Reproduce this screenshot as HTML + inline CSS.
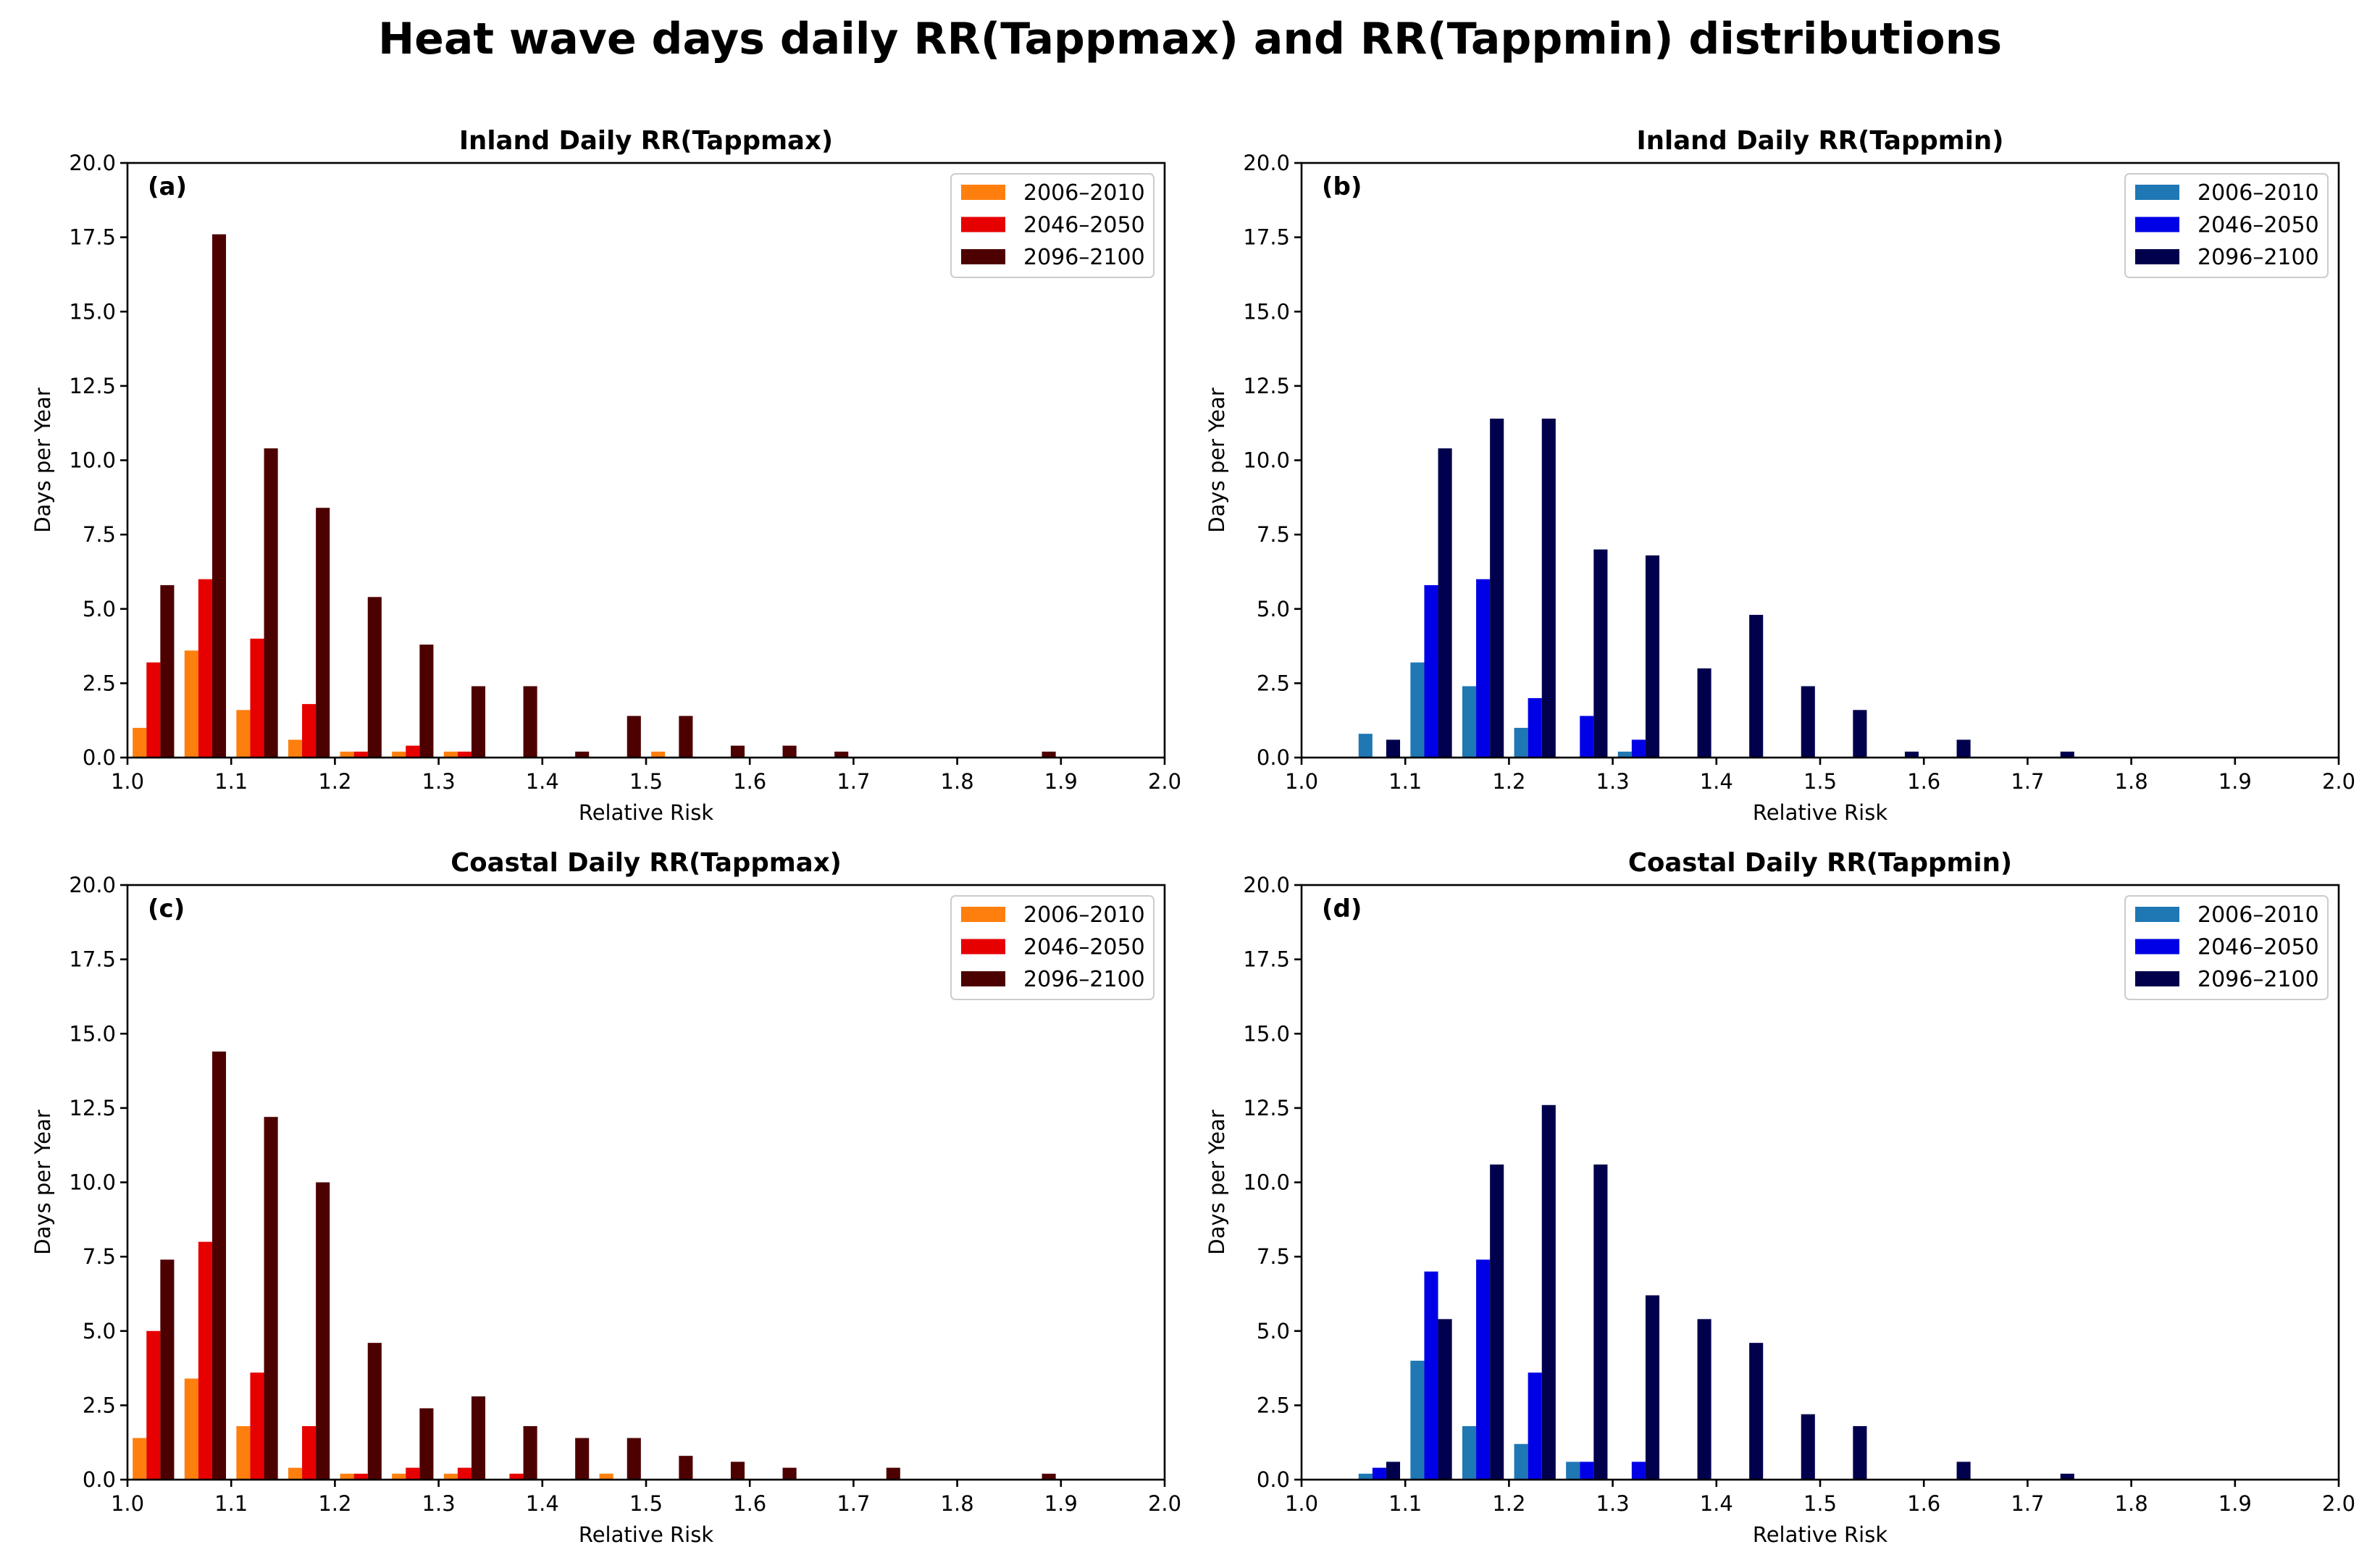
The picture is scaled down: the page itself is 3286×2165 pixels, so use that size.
<!DOCTYPE html>
<html><head><meta charset="utf-8">
<style>
body{margin:0;background:#fff;}
svg text{font-family:"DejaVu Sans","Liberation Sans",sans-serif;}
</style></head>
<body>
<svg id="fig" width="3286" height="2160" viewBox="0 0 3286 2160" xmlns="http://www.w3.org/2000/svg">
<rect width="3286" height="2160" fill="#fff"/>
<text x="1643" y="74" text-anchor="middle" font-size="60" font-weight="bold">Heat wave days daily RR(Tappmax) and RR(Tappmin) distributions</text>
</svg>
<script>
const binStarts = [1.0,1.05,1.1,1.15,1.2,1.25,1.3,1.35,1.4,1.45,1.5,1.55,1.6,1.65,1.7,1.75,1.8,1.85,1.9,1.95];
const seriesLabels = ["2006\u20132010","2046\u20132050","2096\u20132100"];
const xTicks = [1.0,1.1,1.2,1.3,1.4,1.5,1.6,1.7,1.8,1.9,2.0];
const yTicks = [0,2.5,5,7.5,10,12.5,15,17.5,20];

const aP1 = [1.0,3.6,1.6,0.6,0.2,0.2,0.2,0,0,0,0.2,0,0,0,0,0,0,0,0,0];
const aP2 = [3.2,6.0,4.0,1.8,0.2,0.4,0.2,0,0,0,0,0,0,0,0,0,0,0,0,0];
const aP3 = [5.8,17.6,10.4,8.4,5.4,3.8,2.4,2.4,0.2,1.4,1.4,0.4,0.4,0.2,0,0,0,0.2,0,0];

const bP1 = [0,0.8,3.2,2.4,1.0,0,0.2,0,0,0,0,0,0,0,0,0,0,0,0,0];
const bP2 = [0,0,5.8,6.0,2.0,1.4,0.6,0,0,0,0,0,0,0,0,0,0,0,0,0];
const bP3 = [0,0.6,10.4,11.4,11.4,7.0,6.8,3.0,4.8,2.4,1.6,0.2,0.6,0,0.2,0,0,0,0,0];

const cP1 = [1.4,3.4,1.8,0.4,0.2,0.2,0.2,0,0,0.2,0,0,0,0,0,0,0,0,0,0];
const cP2 = [5.0,8.0,3.6,1.8,0.2,0.4,0.4,0.2,0,0,0,0,0,0,0,0,0,0,0,0];
const cP3 = [7.4,14.4,12.2,10.0,4.6,2.4,2.8,1.8,1.4,1.4,0.8,0.6,0.4,0,0.4,0,0,0.2,0,0];

const dP1 = [0,0.2,4.0,1.8,1.2,0.6,0,0,0,0,0,0,0,0,0,0,0,0,0,0];
const dP2 = [0,0.4,7.0,7.4,3.6,0.6,0.6,0,0,0,0,0,0,0,0,0,0,0,0,0];
const dP3 = [0,0.6,5.4,10.6,12.6,10.6,6.2,5.4,4.6,2.2,1.8,0,0.6,0,0.2,0,0,0,0,0];

const warm = ["#ff7f0e","#e60000","#4d0000"];
const cool = ["#1f77b4","#0000e6","#00004d"];

const panels = [
 {id:"a",title:"Inland Daily RR(Tappmax)",x:176,y:225,s:[aP1,aP2,aP3],c:warm},
 {id:"b",title:"Inland Daily RR(Tappmin)",x:1797,y:225,s:[bP1,bP2,bP3],c:cool},
 {id:"c",title:"Coastal Daily RR(Tappmax)",x:176,y:1222,s:[cP1,cP2,cP3],c:warm},
 {id:"d",title:"Coastal Daily RR(Tappmin)",x:1797,y:1222,s:[dP1,dP2,dP3],c:cool}
];
const W=1432,H=821;
const NS="http://www.w3.org/2000/svg";
const svg=document.getElementById('fig');
function mk(tag,attrs,parent,text){const e=document.createElementNS(NS,tag);for(const k in attrs)e.setAttribute(k,attrs[k]);if(text!==undefined)e.textContent=text;parent.appendChild(e);return e;}

panels.forEach(p=>{
 const g=mk('g',{},svg);
 
 
 const xs=v=>p.x+(v-1.0)/1.0*W;
 const ys=v=>p.y+H-(v/20)*H;
 const bw=0.04/3;
 p.s.forEach((arr,si)=>{
  arr.forEach((v,i)=>{
   if(v<=0)return;
   const x0=xs(binStarts[i]+0.005+si*bw), x1=xs(binStarts[i]+0.005+(si+1)*bw);
   const r=mk('rect',{x:x0,y:ys(v),width:x1-x0,height:ys(0)-ys(v),fill:p.c[si]},g);
   
   
  });
 });
 const fr=mk('rect',{x:p.x,y:p.y,width:W,height:H,fill:'none',stroke:'#000','stroke-width':2.6},g);
 
 
 xTicks.forEach(t=>{
  mk('line',{x1:xs(t),x2:xs(t),y1:p.y+H,y2:p.y+H+10,stroke:'#000','stroke-width':2.6},g);
  const tx=mk('text',{x:xs(t),y:p.y+H+43,'text-anchor':'middle','font-size':29},g,t.toFixed(1));
  
  
 });
 yTicks.forEach(t=>{
  mk('line',{x1:p.x-10,x2:p.x,y1:ys(t),y2:ys(t),stroke:'#000','stroke-width':2.6},g);
  const ty=mk('text',{x:p.x-16,y:ys(t)+10,'text-anchor':'end','font-size':29},g,t.toFixed(1));
  
  
 });
 const xl=mk('text',{x:p.x+W/2,y:p.y+H+86,'text-anchor':'middle','font-size':29},g,'Relative Risk');
 
 
 const yl=mk('text',{x:0,y:0,'text-anchor':'middle','font-size':29,transform:'translate('+(p.x-107)+','+(p.y+H/2)+') rotate(-90)'},g,'Days per Year');
 
 
 const ti=mk('text',{x:p.x+W/2,y:p.y-19,'text-anchor':'middle','font-size':35.5,'font-weight':'bold'},g,p.title);
 
 
 const lb=mk('text',{x:p.x+28,y:p.y+44,'font-size':34,'font-weight':'bold'},g,'('+p.id+')');
 
 
 const lg=mk('g',{},g);
 
 
 const lx=p.x+W-295, ly=p.y+15;
 mk('rect',{x:lx,y:ly,width:280,height:143,rx:6,fill:'#fff',stroke:'#ccc','stroke-width':2},lg);
 seriesLabels.forEach((s,si)=>{
  const cy=ly+25+si*44.5;
  const sw=mk('rect',{x:lx+14,y:cy-10,width:61,height:21,fill:p.c[si]},lg);
  
  
  const lt=mk('text',{x:lx+100,y:cy+11,'font-size':30},lg,s);
  
  
 });
});
</script>
</body></html>
